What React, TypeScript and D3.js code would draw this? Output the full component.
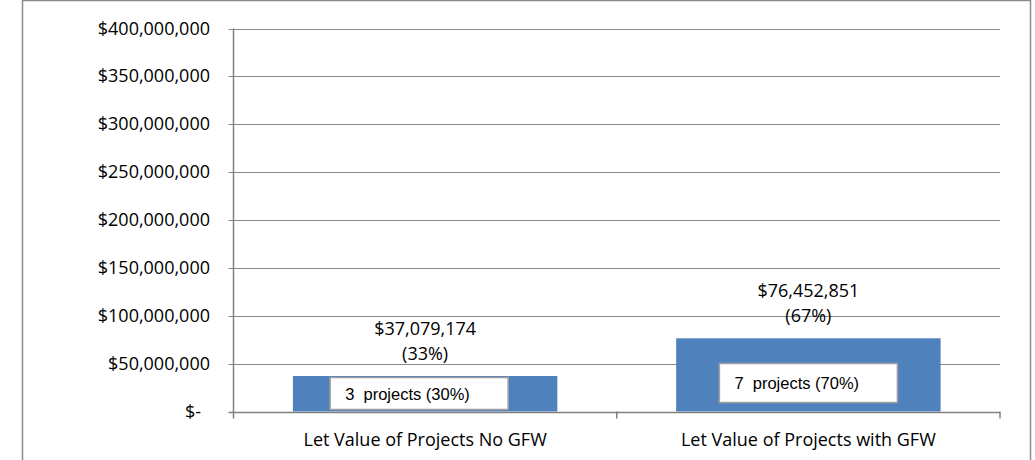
import React, { useEffect, useRef } from "react";
import * as d3 from "d3";

const categories = ["Let Value of Projects No GFW", "Let Value of Projects with GFW"];
const letValues = [37079174, 76452851];
const valueShares = ["(33%)", "(67%)"];
const projectNotes = ["3  projects (30%)", "7  projects (70%)"];
const yTicks = [0, 50000000, 100000000, 150000000, 200000000, 250000000, 300000000, 350000000, 400000000];

const W = 1035;
const H = 460;
const FONT = "'Open Sans', sans-serif";
const FS = 18;

const App = () => {
  const ref = useRef<SVGSVGElement | null>(null);

  useEffect(() => {
    const svg = d3.select(ref.current);
    svg.selectAll("*").remove();

    // outer chart border
    svg
      .append("rect")
      .attr("x", 22.5)
      .attr("y", 0.5)
      .attr("width", 1008)
      .attr("height", H + 10)
      .attr("fill", "white")
      .attr("stroke", "#8c8c8c")
      .attr("stroke-width", 1.5);

    const left = 233.5;
    const right = 1000;
    const top = 28.5;
    const bottom = 411.5;

    const x = d3.scaleBand<string>().domain(categories).range([left, right]).padding(0);
    const y = d3.scaleLinear().domain([0, 400000000]).range([bottom, top]);
    const fmt = d3.format("$,");

    // gridlines + y labels
    const g = svg.append("g");
    yTicks.forEach((t) => {
      g.append("line")
        .attr("x1", left - 5)
        .attr("x2", right)
        .attr("y1", Math.round(y(t)) + 0.5)
        .attr("y2", Math.round(y(t)) + 0.5)
        .attr("stroke", t === 0 ? "#808080" : "#8a8a8a")
        .attr("stroke-width", t === 0 ? 1.5 : 1.2);
      g.append("text")
        .attr("x", t === 0 ? 201 : 210)
        .attr("y", y(t) + 6)
        .attr("text-anchor", "end")
        .attr("font-family", FONT)
        .attr("font-size", FS)
        .attr("fill", "#000")
        .text(t === 0 ? "$-" : fmt(t));
    });

    // y axis line
    g.append("line")
      .attr("x1", left)
      .attr("x2", left)
      .attr("y1", top)
      .attr("y2", bottom + 7)
      .attr("stroke", "#808080")
      .attr("stroke-width", 1.5);

    // category ticks
    [x(categories[1])!, right].forEach((cx) => {
      g.append("line")
        .attr("x1", cx)
        .attr("x2", cx)
        .attr("y1", bottom)
        .attr("y2", bottom + 7)
        .attr("stroke", "#808080")
        .attr("stroke-width", 1.5);
    });

    const barW = x.bandwidth() * 0.69;

    categories.forEach((c, i) => {
      const cx = x(c)! + x.bandwidth() / 2;
      const yt = y(letValues[i]);

      g.append("rect")
        .attr("x", cx - barW / 2)
        .attr("y", yt)
        .attr("width", barW)
        .attr("height", bottom - yt)
        .attr("fill", "#4f81bd");

      // value labels above bars
      g.append("text")
        .attr("x", cx)
        .attr("y", yt - 41)
        .attr("text-anchor", "middle")
        .attr("font-family", FONT)
        .attr("font-size", FS)
        .text(fmt(letValues[i]));
      g.append("text")
        .attr("x", cx)
        .attr("y", yt - 16)
        .attr("text-anchor", "middle")
        .attr("font-family", FONT)
        .attr("font-size", FS)
        .text(valueShares[i]);

      // project count boxes
      const bx = cx + (i === 0 ? -95 : -89);
      const bh = i === 0 ? 32 : 39;
      const by = i === 0 ? bottom - 34 : bottom - 48;
      g.append("rect")
        .attr("x", bx)
        .attr("y", by)
        .attr("width", 178)
        .attr("height", bh)
        .attr("fill", "white")
        .attr("stroke", "#a0a0a0")
        .attr("stroke-width", 1.5);
      g.append("text")
        .attr("x", bx + 15)
        .attr("y", by + bh / 2 + 6)
        .attr("font-family", "'Liberation Sans', Arial, sans-serif")
        .attr("font-size", 16.5)
        .style("white-space", "pre")
        .text(projectNotes[i]);

      // category label
      g.append("text")
        .attr("x", cx)
        .attr("y", 446)
        .attr("text-anchor", "middle")
        .attr("font-family", FONT)
        .attr("font-size", FS)
        .text(c);
    });
  }, []);

  return (
    <svg
      ref={ref}
      width={W}
      height={H}
      style={{ position: "absolute", left: 0, top: 0, background: "white" }}
    />
  );
};

export default App;
